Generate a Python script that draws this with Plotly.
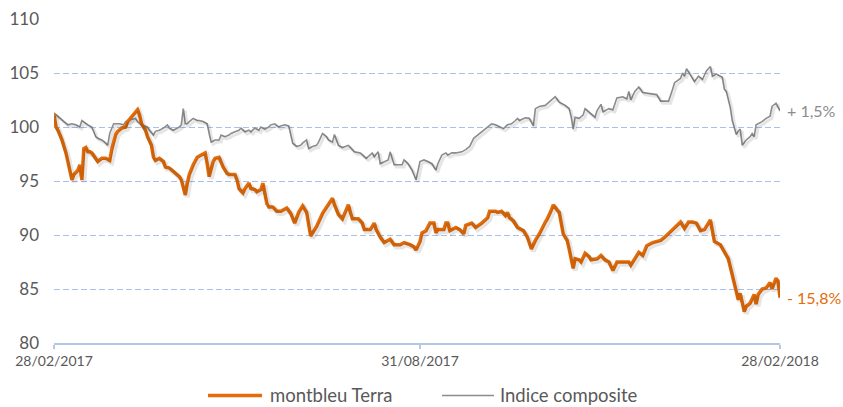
import plotly.graph_objects as go

# ---------------- data ----------------
terra_dates = [
    "2017-02-28","2017-03-01","2017-03-02","2017-03-04","2017-03-06","2017-03-07","2017-03-08","2017-03-09","2017-03-10","2017-03-12",
    "2017-03-13","2017-03-14","2017-03-15","2017-03-16","2017-03-17","2017-03-18","2017-03-19","2017-03-21","2017-03-22","2017-03-24",
    "2017-03-26","2017-03-28","2017-03-29","2017-03-31","2017-04-01","2017-04-03","2017-04-05","2017-04-06","2017-04-08","2017-04-10",
    "2017-04-11","2017-04-12","2017-04-13","2017-04-15","2017-04-16","2017-04-18","2017-04-19","2017-04-20","2017-04-22","2017-04-24",
    "2017-04-25","2017-04-27","2017-04-29","2017-04-30","2017-05-02","2017-05-03","2017-05-04","2017-05-05","2017-05-06","2017-05-07",
    "2017-05-09","2017-05-11","2017-05-13","2017-05-15","2017-05-16","2017-05-17","2017-05-19","2017-05-20","2017-05-22","2017-05-23",
    "2017-05-24","2017-05-26","2017-05-27","2017-05-30","2017-05-31","2017-06-01","2017-06-03","2017-06-04","2017-06-06","2017-06-07",
    "2017-06-09","2017-06-10","2017-06-12","2017-06-13","2017-06-14","2017-06-15","2017-06-16","2017-06-18","2017-06-20","2017-06-22",
    "2017-06-25","2017-06-27","2017-06-29","2017-07-01","2017-07-03","2017-07-05","2017-07-07","2017-07-10","2017-07-13","2017-07-17",
    "2017-07-18","2017-07-19","2017-07-21","2017-07-23","2017-07-24","2017-07-26","2017-07-27","2017-07-28","2017-07-31","2017-08-02",
    "2017-08-03","2017-08-06","2017-08-08","2017-08-09","2017-08-11","2017-08-13","2017-08-16","2017-08-18","2017-08-21","2017-08-23",
    "2017-08-26","2017-08-28","2017-08-29","2017-08-31","2017-09-01","2017-09-03","2017-09-05","2017-09-07","2017-09-08","2017-09-09",
    "2017-09-12","2017-09-13","2017-09-14","2017-09-15","2017-09-18","2017-09-20","2017-09-22","2017-09-23","2017-09-26","2017-09-28",
    "2017-10-01","2017-10-04","2017-10-05","2017-10-08","2017-10-09","2017-10-11","2017-10-13","2017-10-14","2017-10-15","2017-10-17",
    "2017-10-19","2017-10-22","2017-10-24","2017-10-26","2017-10-28","2017-10-30","2017-11-02","2017-11-03","2017-11-05","2017-11-06",
    "2017-11-08","2017-11-09","2017-11-11","2017-11-13","2017-11-14","2017-11-16","2017-11-17","2017-11-19","2017-11-20","2017-11-22",
    "2017-11-24","2017-11-25","2017-11-28","2017-11-30","2017-12-02","2017-12-04","2017-12-06","2017-12-08","2017-12-10","2017-12-14",
    "2017-12-15","2017-12-17","2017-12-19","2017-12-21","2017-12-23","2017-12-26","2017-12-30","2018-01-01","2018-01-04","2018-01-06",
    "2018-01-09","2018-01-11","2018-01-13","2018-01-15","2018-01-17","2018-01-19","2018-01-21","2018-01-24","2018-01-25","2018-01-26",
    "2018-01-29","2018-01-31","2018-02-02","2018-02-04","2018-02-05","2018-02-07","2018-02-08","2018-02-10","2018-02-11","2018-02-13",
    "2018-02-15","2018-02-16","2018-02-17","2018-02-19","2018-02-21","2018-02-23","2018-02-24","2018-02-26","2018-02-27","2018-02-28",
]
terra_values = [
    101.2, 100.0, 99.7, 98.8, 97.6, 96.8, 95.7, 95.1, 95.6, 96.0,
    96.5, 95.1, 98.0, 98.1, 97.7, 97.7, 97.6, 97.1, 96.8, 97.1,
    97.1, 96.9, 97.9, 99.3, 99.6, 99.9, 100.0, 100.5, 100.95, 101.3,
    101.6, 101.1, 100.3, 99.7, 99.1, 98.3, 97.2, 96.9, 97.1, 96.8,
    96.3, 96.2, 95.9, 95.7, 95.4, 95.1, 94.3, 93.7, 94.8, 95.6,
    96.5, 97.2, 97.4, 97.6, 96.6, 95.4, 96.8, 97.1, 97.2, 96.8,
    96.3, 95.7, 95.6, 95.6, 95.1, 94.3, 93.9, 94.3, 94.8, 94.3,
    94.2, 94.0, 94.2, 94.8, 93.7, 92.9, 92.6, 92.6, 92.2, 92.2,
    92.5, 92.0, 91.1, 92.1, 92.7, 92.1, 89.9, 90.8, 92.0, 93.1,
    93.4, 92.8, 91.9, 91.5, 91.9, 92.8, 92.1, 91.5, 91.5, 91.1,
    90.5, 90.5, 91.1, 90.5, 89.8, 89.3, 89.6, 89.1, 89.1, 89.3,
    89.1, 88.9, 88.6, 89.4, 90.2, 90.4, 91.1, 91.1, 90.2, 90.5,
    90.5, 91.1, 91.1, 90.4, 90.7, 90.5, 90.1, 90.9, 91.1, 90.7,
    91.1, 91.6, 92.2, 92.2, 92.1, 92.2, 91.8, 92.1, 91.6, 91.3,
    90.7, 90.4, 89.8, 88.7, 89.5, 90.1, 91.2, 91.5, 92.3, 92.8,
    92.3, 92.1, 90.1, 89.5, 88.7, 86.9, 87.8, 87.7, 87.5, 88.3,
    88.0, 87.7, 87.8, 88.1, 87.7, 87.5, 86.7, 87.5, 87.5, 87.5,
    87.2, 87.8, 88.4, 88.1, 89.0, 89.3, 89.5, 89.8, 90.3, 90.6,
    91.2, 90.6, 91.2, 91.2, 91.1, 90.4, 90.5, 91.4, 90.5, 89.4,
    89.1, 88.5, 87.8, 86.3, 85.4, 84.0, 84.6, 82.9, 83.4, 83.7,
    84.5, 83.6, 84.5, 85.0, 85.1, 85.6, 85.0, 86.0, 85.7, 84.2,
]

index_dates = [
    "2017-02-28","2017-03-02","2017-03-05","2017-03-07","2017-03-09","2017-03-11","2017-03-13","2017-03-14","2017-03-16","2017-03-17",
    "2017-03-19","2017-03-21","2017-03-22","2017-03-24","2017-03-26","2017-03-27","2017-03-28","2017-03-30","2017-03-31","2017-04-02",
    "2017-04-04","2017-04-05","2017-04-08","2017-04-10","2017-04-11","2017-04-13","2017-04-16","2017-04-17","2017-04-19","2017-04-20",
    "2017-04-22","2017-04-24","2017-04-26","2017-04-27","2017-04-29","2017-05-01","2017-05-02","2017-05-03","2017-05-04","2017-05-05",
    "2017-05-06","2017-05-07","2017-05-09","2017-05-11","2017-05-12","2017-05-14","2017-05-16","2017-05-17","2017-05-18","2017-05-20",
    "2017-05-22","2017-05-23","2017-05-25","2017-05-27","2017-05-28","2017-05-30","2017-06-01","2017-06-02","2017-06-04","2017-06-06",
    "2017-06-07","2017-06-09","2017-06-11","2017-06-12","2017-06-14","2017-06-16","2017-06-17","2017-06-19","2017-06-21","2017-06-22",
    "2017-06-24","2017-06-26","2017-06-27","2017-06-28","2017-06-30","2017-07-02","2017-07-03","2017-07-05","2017-07-06","2017-07-08",
    "2017-07-10","2017-07-11","2017-07-13","2017-07-15","2017-07-16","2017-07-18","2017-07-19","2017-07-21","2017-07-23","2017-07-25",
    "2017-07-26","2017-07-29","2017-08-01","2017-08-04","2017-08-07","2017-08-08","2017-08-10","2017-08-11","2017-08-13","2017-08-15",
    "2017-08-16","2017-08-18","2017-08-22","2017-08-23","2017-08-25","2017-08-27","2017-08-28","2017-08-29","2017-08-31","2017-09-02",
    "2017-09-04","2017-09-06","2017-09-08","2017-09-09","2017-09-11","2017-09-13","2017-09-14","2017-09-16","2017-09-18","2017-09-21",
    "2017-09-23","2017-09-25","2017-09-27","2017-09-29","2017-10-02","2017-10-04","2017-10-06","2017-10-08","2017-10-10","2017-10-12",
    "2017-10-14","2017-10-16","2017-10-18","2017-10-19","2017-10-20","2017-10-23","2017-10-25","2017-10-27","2017-10-28","2017-10-30",
    "2017-11-02","2017-11-04","2017-11-07","2017-11-09","2017-11-12","2017-11-14","2017-11-15","2017-11-16","2017-11-17","2017-11-19",
    "2017-11-21","2017-11-22","2017-11-24","2017-11-27","2017-11-28","2017-11-30","2017-12-01","2017-12-04","2017-12-06","2017-12-08",
    "2017-12-11","2017-12-13","2017-12-14","2017-12-15","2017-12-17","2017-12-19","2017-12-21","2017-12-24","2017-12-28","2017-12-30",
    "2018-01-03","2018-01-05","2018-01-06","2018-01-09","2018-01-10","2018-01-11","2018-01-12","2018-01-14","2018-01-16","2018-01-18",
    "2018-01-20","2018-01-22","2018-01-24","2018-01-25","2018-01-27","2018-01-30","2018-01-31","2018-02-01","2018-02-03","2018-02-04",
    "2018-02-06","2018-02-07","2018-02-08","2018-02-09","2018-02-11","2018-02-13","2018-02-14","2018-02-15","2018-02-16","2018-02-19",
    "2018-02-21","2018-02-23","2018-02-24","2018-02-26","2018-02-28",
]
index_values = [
    101.3, 100.95, 100.5, 100.2, 100.3, 100.2, 100.0, 100.6, 100.3, 100.2,
    100.0, 99.1, 98.95, 98.8, 98.5, 98.3, 99.4, 100.3, 100.3, 100.3,
    100.2, 100.5, 100.7, 100.8, 100.5, 100.2, 100.0, 99.7, 99.25, 99.6,
    99.7, 99.9, 100.2, 99.9, 99.7, 99.9, 100.0, 100.2, 101.7, 100.3,
    100.3, 100.5, 100.8, 100.6, 100.6, 100.5, 100.3, 99.4, 98.6, 98.8,
    98.8, 99.25, 99.1, 99.25, 99.4, 99.55, 99.7, 99.9, 99.55, 99.7,
    99.55, 99.9, 99.7, 100.0, 99.8, 100.0, 100.2, 100.3, 100.0, 100.1,
    100.2, 100.1, 99.4, 98.5, 98.2, 98.3, 98.5, 98.8, 98.0, 98.2,
    98.3, 98.6, 99.4, 99.1, 98.8, 98.6, 99.3, 98.3, 98.1, 98.2,
    98.3, 97.7, 97.6, 97.1, 97.6, 97.25, 97.7, 96.6, 96.8, 96.95,
    97.7, 96.5, 96.5, 96.95, 96.6, 96.0, 95.55, 95.1, 96.8, 96.95,
    96.8, 96.6, 96.0, 96.6, 97.4, 97.6, 97.4, 97.6, 97.6, 97.7,
    97.9, 98.2, 98.95, 99.25, 99.7, 100.0, 100.3, 100.2, 100.0, 99.85,
    100.2, 100.3, 100.6, 100.8, 100.6, 100.85, 100.8, 100.1, 101.7, 101.9,
    102.0, 102.3, 102.8, 102.3, 102.0, 101.7, 100.95, 99.8, 100.9, 100.8,
    101.1, 101.7, 101.4, 100.9, 101.5, 102.1, 101.4, 101.7, 101.6, 102.7,
    102.8, 102.6, 103.3, 102.5, 103.3, 103.7, 103.2, 103.1, 103.0, 102.4,
    102.4, 103.5, 104.1, 104.5, 105.0, 104.7, 105.4, 104.8, 104.2, 104.7,
    104.4, 105.2, 105.6, 104.7, 104.9, 104.6, 103.5, 103.3, 101.8, 100.6,
    99.3, 99.6, 99.8, 98.3, 98.8, 99.1, 99.4, 99.1, 100.2, 100.5,
    100.8, 101.0, 101.9, 102.2, 101.5,
]

tick_dates = ["2017-02-28", "2017-08-31", "2018-02-28"]
tick_labels = ["28/02/2017", "31/08/2017", "28/02/2018"]
series_names = ["montbleu Terra", "Indice composite"]
end_labels = ["- 15,8%", "+ 1,5%"]

# ---------------- style ----------------
ORANGE = "#E46C0A"
GREY = "#8C8C8C"
TEXT = "#595959"
GRID = "#A8C0F0"
AXIS = "#B4C7E7"
SHADOW = "rgba(0,0,0,0.10)"
FONT = "Lato, 'Open Sans', sans-serif"

fig = go.Figure()
# soft drop shadows (drawn on hidden overlay axes, slightly offset)
fig.add_trace(go.Scatter(x=index_dates, y=index_values, mode="lines",
                         line=dict(color=SHADOW, width=3), xaxis="x2", yaxis="y2",
                         showlegend=False, hoverinfo="skip"))
fig.add_trace(go.Scatter(x=terra_dates, y=terra_values, mode="lines",
                         line=dict(color=SHADOW, width=5), xaxis="x2", yaxis="y2",
                         showlegend=False, hoverinfo="skip"))
# main series
fig.add_trace(go.Scatter(x=index_dates, y=index_values, mode="lines",
                         name=series_names[1], line=dict(color=GREY, width=1.6),
                         showlegend=False))
fig.add_trace(go.Scatter(x=terra_dates, y=terra_values, mode="lines",
                         name=series_names[0], line=dict(color=ORANGE, width=3.5),
                         showlegend=False))

# end-of-series labels
fig.add_annotation(x=terra_dates[-1], y=terra_values[-1], text=end_labels[0],
                   xanchor="left", yanchor="middle", xshift=5, showarrow=False,
                   font=dict(family=FONT, size=16, color=ORANGE))
fig.add_annotation(x=index_dates[-1], y=index_values[-1], text=end_labels[1],
                   xanchor="left", yanchor="middle", xshift=5, showarrow=False,
                   font=dict(family=FONT, size=16, color=GREY))

# custom legend below the plot
legend_y = -0.162
fig.add_shape(type="line", xref="paper", yref="paper", x0=0.2121, x1=0.2865,
              y0=legend_y, y1=legend_y, line=dict(color=ORANGE, width=3.5))
fig.add_annotation(xref="paper", yref="paper", x=0.2948, y=legend_y, text=series_names[0],
                   xanchor="left", yanchor="middle", showarrow=False,
                   font=dict(family=FONT, size=18.5, color=TEXT))
fig.add_shape(type="line", xref="paper", yref="paper", x0=0.5344, x1=0.6061,
              y0=legend_y, y1=legend_y, line=dict(color=GREY, width=1.6))
fig.add_annotation(xref="paper", yref="paper", x=0.6116, y=legend_y, text=series_names[1],
                   xanchor="left", yanchor="middle", showarrow=False,
                   font=dict(family=FONT, size=18.5, color=TEXT))

fig.update_layout(
    width=843, height=407,
    margin=dict(l=54, r=63, t=19, b=64, autoexpand=False),
    paper_bgcolor="white", plot_bgcolor="white",
    showlegend=False,
    font=dict(family=FONT, color=TEXT),
    xaxis=dict(
        type="date", range=[tick_dates[0], tick_dates[-1]],
        tickmode="array", tickvals=tick_dates, ticktext=tick_labels,
        showgrid=False, zeroline=False, automargin=False,
        showline=True, linecolor=AXIS, linewidth=1.5,
        ticks="outside", ticklen=4, tickcolor=AXIS, tickwidth=1.5,
        tickfont=dict(family=FONT, size=14, color=TEXT),
    ),
    yaxis=dict(
        range=[80, 110], tickmode="linear", tick0=80, dtick=5,
        showgrid=True, gridcolor=GRID, gridwidth=1.2, griddash="6px,3px",
        zeroline=False, showline=False, ticks="", automargin=False,
        ticklabelstandoff=14,
        tickfont=dict(family=FONT, size=17, color=TEXT),
    ),
    xaxis2=dict(type="date", overlaying="x", visible=False,
                range=["2017-02-27", "2018-02-27"]),
    yaxis2=dict(overlaying="y", visible=False, range=[80.2, 110.2]),
)

fig.write_html(
    "out.html",
    config={"displayModeBar": False},
    post_script="document.body.style.margin='0';document.body.style.padding='0';"
                "document.documentElement.style.overflow='hidden';",
)
